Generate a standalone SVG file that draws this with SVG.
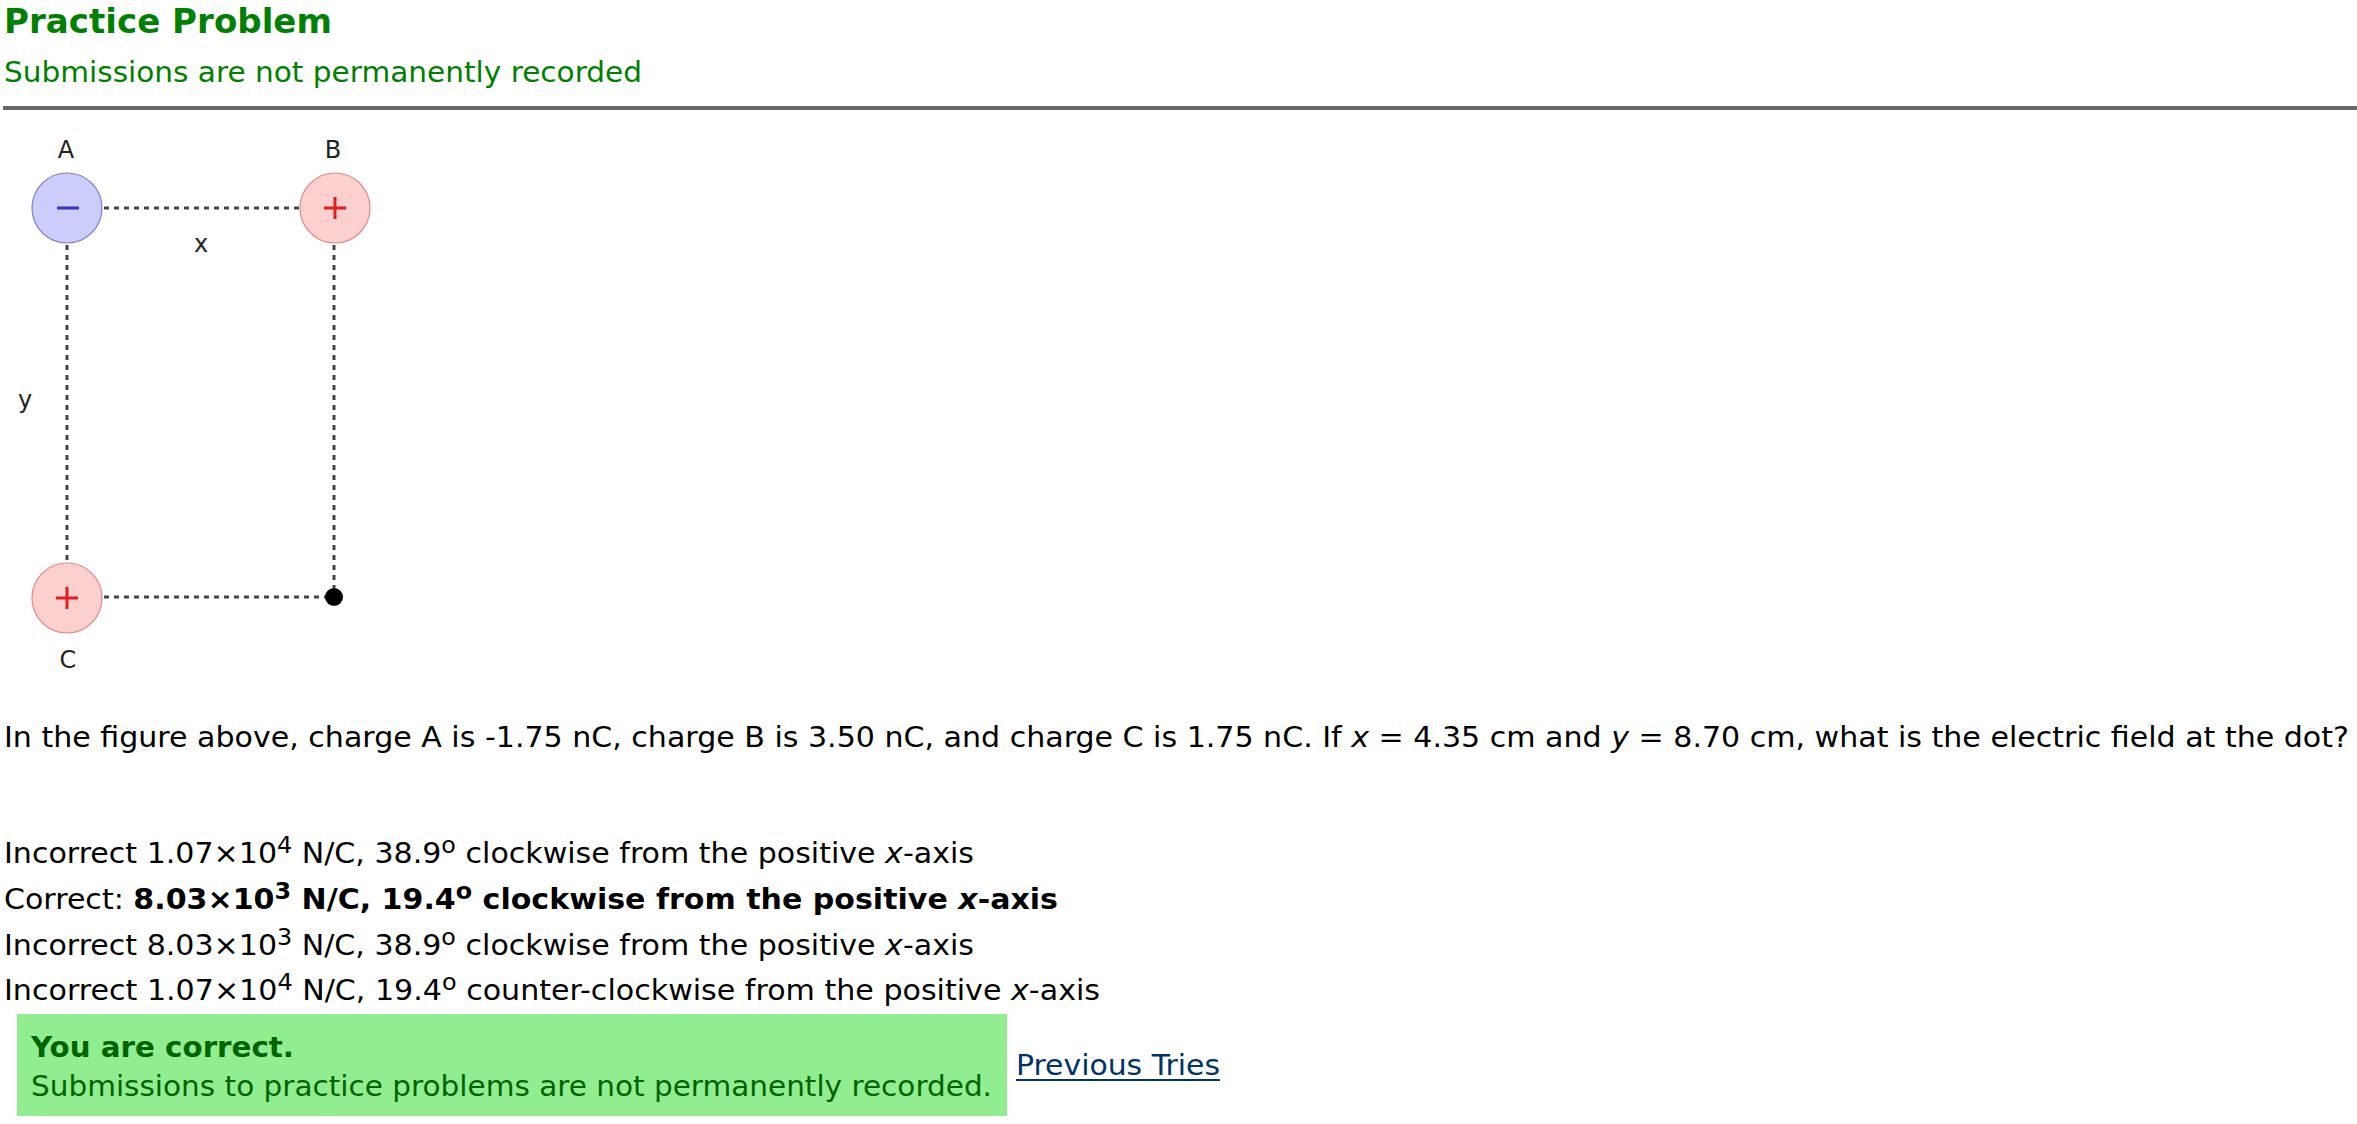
<svg xmlns="http://www.w3.org/2000/svg" width="2357" height="1124" viewBox="0 0 2357 1124">
<style>
  .t { font-family: "DejaVu Sans", Verdana, sans-serif; font-size: 29px; fill: #000; }
  .green { fill: #008000; }
  .dg { fill: #006400; }
  .b { font-weight: bold; }
  .i { font-style: italic; }
  .sup { font-size: 23px; }
  .lbl { font-family: "DejaVu Sans", sans-serif; font-size: 24px; fill: #222; text-anchor: middle; }
  .conn { stroke: #444; stroke-width: 3; stroke-dasharray: 5 5; fill: none; }
  .neg { fill: #cdcdfc; stroke: #8080d8; stroke-width: 1.2; }
  .pos { fill: #fdd0d0; stroke: #e08a8a; stroke-width: 1.2; }
  .negsign { stroke: #3434c8; stroke-width: 3; }
  .possign { stroke: #e02020; stroke-width: 3; }
</style>
<rect width="2357" height="1124" fill="#fff"/>
<g id="header">
  <text class="t green b" x="4" y="33" font-size="33" style="font-size:33px" textLength="328" lengthAdjust="spacingAndGlyphs">Practice Problem</text>
  <text class="t green" x="4" y="82" textLength="638" lengthAdjust="spacingAndGlyphs">Submissions are not permanently recorded</text>
  <rect x="3" y="106" width="2354" height="4" fill="#686868"/>
</g>
<g id="connectors">
  <line class="conn" x1="104" y1="208" x2="299" y2="208"/>
  <line class="conn" x1="104" y1="597" x2="325" y2="597"/>
  <line class="conn" x1="67" y1="245" x2="67" y2="562"/>
  <line class="conn" x1="334" y1="245" x2="334" y2="588"/>
</g>
<g id="chargeA">
  <circle class="neg" cx="67" cy="208" r="35"/>
  <line class="negsign" x1="57" y1="208" x2="79" y2="208"/>
  <text class="lbl" x="66" y="158">A</text>
</g>
<g id="chargeB">
  <circle class="pos" cx="335" cy="208" r="35"/>
  <line class="possign" x1="324" y1="208" x2="346" y2="208"/>
  <line class="possign" x1="335" y1="197" x2="335" y2="219"/>
  <text class="lbl" x="333" y="158">B</text>
</g>
<g id="chargeC">
  <circle class="pos" cx="67" cy="598" r="35"/>
  <line class="possign" x1="56" y1="598" x2="78" y2="598"/>
  <line class="possign" x1="67" y1="587" x2="67" y2="609"/>
  <text class="lbl" x="68" y="668">C</text>
</g>
<g id="dot">
  <circle cx="334" cy="597" r="9" fill="#000"/>
</g>
<g id="dimlabels">
  <text class="lbl" x="201" y="252">x</text>
  <text class="lbl" x="25" y="408">y</text>
</g>
<g id="question">
  <text class="t" x="4" y="747" textLength="2345" lengthAdjust="spacingAndGlyphs">In the figure above, charge A is -1.75 nC, charge B is 3.50 nC, and charge C is 1.75 nC. If <tspan class="i">x</tspan> = 4.35 cm and <tspan class="i">y</tspan> = 8.70 cm, what is the electric field at the dot?</text>
</g>
<g id="answers">
  <text class="t" x="4" y="863" textLength="970" lengthAdjust="spacingAndGlyphs">Incorrect 1.07×10<tspan class="sup" dy="-10">4</tspan><tspan dy="10"> N/C, 38.9</tspan><tspan class="sup" dy="-10">o</tspan><tspan dy="10"> clockwise from the positive </tspan><tspan class="i">x</tspan>-axis</text>
  <text class="t" x="4" y="909" textLength="1054" lengthAdjust="spacingAndGlyphs">Correct: <tspan class="b">8.03×10</tspan><tspan class="b sup" dy="-10">3</tspan><tspan class="b" dy="10"> N/C, 19.4</tspan><tspan class="b sup" dy="-10">o</tspan><tspan class="b" dy="10"> clockwise from the positive </tspan><tspan class="b i">x</tspan><tspan class="b">-axis</tspan></text>
  <text class="t" x="4" y="955" textLength="970" lengthAdjust="spacingAndGlyphs">Incorrect 8.03×10<tspan class="sup" dy="-10">3</tspan><tspan dy="10"> N/C, 38.9</tspan><tspan class="sup" dy="-10">o</tspan><tspan dy="10"> clockwise from the positive </tspan><tspan class="i">x</tspan>-axis</text>
  <text class="t" x="4" y="1000" textLength="1096" lengthAdjust="spacingAndGlyphs">Incorrect 1.07×10<tspan class="sup" dy="-10">4</tspan><tspan dy="10"> N/C, 19.4</tspan><tspan class="sup" dy="-10">o</tspan><tspan dy="10"> counter-clockwise from the positive </tspan><tspan class="i">x</tspan>-axis</text>
</g>
<g id="feedback">
  <rect x="17" y="1014" width="990" height="102" fill="#90ee90"/>
  <text class="t dg b" x="31" y="1057" textLength="263" lengthAdjust="spacingAndGlyphs">You are correct.</text>
  <text class="t dg" x="31" y="1096" textLength="961" lengthAdjust="spacingAndGlyphs">Submissions to practice problems are not permanently recorded.</text>
</g>
<g id="previousTries">
  <text class="t" x="1016" y="1075" fill="#003366" style="fill:#003366" textLength="204" lengthAdjust="spacingAndGlyphs">Previous Tries</text>
  <line x1="1016" y1="1080" x2="1220" y2="1080" stroke="#003366" stroke-width="2"/>
</g>
</svg>
